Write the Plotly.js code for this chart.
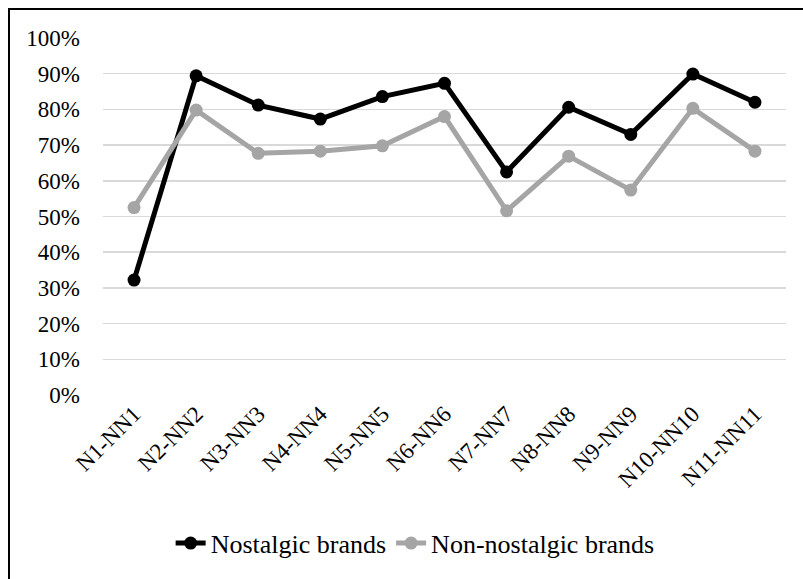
<!DOCTYPE html>
<html>
<head>
<meta charset="utf-8">
<script src="https://cdn.plot.ly/plotly-3.0.1.min.js"></script>
<style>
  html, body { margin: 0; padding: 0; background: #fff; overflow: hidden; font-family: "Liberation Serif", "Times New Roman", serif; }
  #frame { position: absolute; left: 8px; top: 8px; width: 820px; height: 600px; border: 2px solid #000; box-sizing: border-box; }
  #chart { position: absolute; left: 0; top: 0; width: 803px; height: 579px; }
</style>
</head>
<body>
<div id="frame"></div>
<div id="chart"></div>
<script>
const categories = ["N1-NN1","N2-NN2","N3-NN3","N4-NN4","N5-NN5","N6-NN6","N7-NN7","N8-NN8","N9-NN9","N10-NN10","N11-NN11"];
const nostalgic = [0.322, 0.894, 0.812, 0.773, 0.836, 0.873, 0.625, 0.806, 0.730, 0.899, 0.820];
const nonNostalgic = [0.525, 0.798, 0.677, 0.683, 0.698, 0.780, 0.516, 0.669, 0.574, 0.803, 0.683];
const yTicks = [0,0.1,0.2,0.3,0.4,0.5,0.6,0.7,0.8,0.9,1.0];
const yTickLabels = ["0%","10%","20%","30%","40%","50%","60%","70%","80%","90%","100%"];
const seriesNames = ["Nostalgic brands", "Non-nostalgic brands"];

const FONT = 'Liberation Serif, Times New Roman, Times, DejaVu Serif, serif';

const traces = [
  { x: categories, y: nostalgic, name: seriesNames[0], type: 'scatter', mode: 'lines+markers',
    line: { color: '#000000', width: 5 }, marker: { color: '#000000', size: 13 } },
  { x: categories, y: nonNostalgic, name: seriesNames[1], type: 'scatter', mode: 'lines+markers',
    line: { color: '#a5a5a5', width: 5 }, marker: { color: '#a5a5a5', size: 13 } }
];

const layout = {
  width: 803, height: 579,
  margin: { l: 103, r: 17, t: 38, b: 184 },
  paper_bgcolor: 'rgba(0,0,0,0)', plot_bgcolor: 'rgba(0,0,0,0)',
  font: { family: FONT, color: '#000', size: 23 },
  showlegend: true,
  legend: { orientation: 'h', x: 0.457, xanchor: 'center', y: -0.415, yanchor: 'middle',
            font: { family: FONT, size: 26 }, itemwidth: 30, tracegroupgap: 0 },
  xaxis: { type: 'category', range: [-0.5, 10.5], tickangle: -45, showgrid: false, zeroline: false,
           showline: false, ticks: '', tickfont: { family: FONT, size: 23 } },
  yaxis: { range: [0, 1], tickvals: yTicks, ticktext: yTickLabels, showgrid: true, gridcolor: '#d9d9d9',
           gridwidth: 1.5, zeroline: false, showline: false, ticks: '', tickfont: { family: FONT, size: 23 }, ticklabelstandoff: 22 }
};
const config = { displayModeBar: false, staticPlot: true };

function draw() { return Plotly.newPlot('chart', traces, layout, config); }
draw().then(function(gd){
  gd.querySelectorAll('text').forEach(function(t){ getComputedStyle(t).fontFamily; t.getBBox(); });
  setTimeout(draw, 80);
  setTimeout(draw, 300);
});
</script>
</body>
</html>
